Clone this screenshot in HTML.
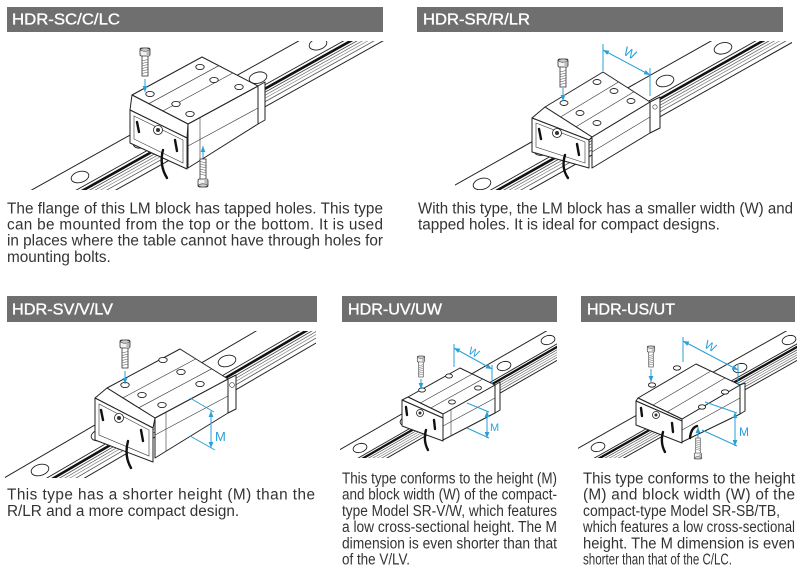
<!DOCTYPE html>
<html><head><meta charset="utf-8">
<style>
html,body{margin:0;padding:0;background:#fff;}
svg{display:block;}
.t{font-family:"Liberation Sans",Arial,sans-serif;font-size:15.3px;fill:#333;}
.h{font-family:"Liberation Sans",Arial,sans-serif;font-size:16px;fill:#fff;stroke:#fff;stroke-width:0.35px;}
.b{fill:#fff;stroke:#222;stroke-width:1;stroke-linejoin:round;}
.thin{fill:none;stroke:#333;stroke-width:0.6;}
.hole{fill:#fff;stroke:#222;stroke-width:0.9;}
.d{stroke:#2a9fd8;stroke-width:1;fill:none;}
.dl{font-family:"Liberation Sans",Arial,sans-serif;fill:#2a9fd8;}
.seal{stroke:#111;stroke-width:2.4;fill:none;stroke-linecap:round;}
</style></head><body>
<svg width="800" height="578" viewBox="0 0 800 578" xmlns="http://www.w3.org/2000/svg">
<defs>
  <marker id="ah" viewBox="0 0 10 10" refX="10" refY="5" markerWidth="6" markerHeight="6" markerUnits="userSpaceOnUse" orient="auto-start-reverse">
    <path d="M0,1 L10,5 L0,9 z" fill="#2a9fd8"/>
  </marker>
  <g id="bolt">
    <rect x="-3" y="7" width="6" height="21" fill="#fff" stroke="#333" stroke-width="0.8"/>
    <path d="M-3,13 L3,11.5 M-3,15.5 L3,14 M-3,18 L3,16.5 M-3,20.5 L3,19 M-3,23 L3,21.5 M-3,25.5 L3,24" stroke="#555" stroke-width="0.6"/>
    <rect x="-5" y="0" width="10" height="8" rx="1.5" fill="#f2f2f2" stroke="#333" stroke-width="0.8"/>
    <ellipse cx="0" cy="1.6" rx="4.4" ry="1.6" fill="#ccc" stroke="#333" stroke-width="0.6"/>
    <rect x="1.5" y="3" width="3" height="5" fill="#bbb"/>
  </g>
  <clipPath id="c1"><rect x="30" y="41" width="355" height="149"/></clipPath>
  <clipPath id="c2"><rect x="455" y="41" width="337" height="149"/></clipPath>
  <clipPath id="c3"><rect x="5" y="331" width="311" height="147"/></clipPath>
  <clipPath id="c4"><rect x="340" y="331" width="217" height="127"/></clipPath>
  <clipPath id="c5"><rect x="578" y="331" width="219" height="127"/></clipPath>
</defs>
<rect width="800" height="578" fill="#fff"/>

<!-- Headers -->
<rect x="7" y="7" width="376" height="25" fill="#6f6f6f"/>
<text class="h" x="12" y="24.7" textLength="108" lengthAdjust="spacingAndGlyphs">HDR-SC/C/LC</text>
<rect x="417" y="7" width="366" height="25" fill="#6f6f6f"/>
<text class="h" x="423" y="24.7" textLength="107" lengthAdjust="spacingAndGlyphs">HDR-SR/R/LR</text>
<rect x="7" y="296" width="310" height="26" fill="#6f6f6f"/>
<text class="h" x="12" y="314.5" textLength="101" lengthAdjust="spacingAndGlyphs">HDR-SV/V/LV</text>
<rect x="342" y="296" width="215" height="26" fill="#6f6f6f"/>
<text class="h" x="348" y="314.5" textLength="94" lengthAdjust="spacingAndGlyphs">HDR-UV/UW</text>
<rect x="581" y="296" width="214" height="26" fill="#6f6f6f"/>
<text class="h" x="587" y="314.5" textLength="88" lengthAdjust="spacingAndGlyphs">HDR-US/UT</text>

<!-- Body text -->
<text class="t" x="7" y="213.3" textLength="376" lengthAdjust="spacing">The flange of this LM block has tapped holes. This type</text>
<text class="t" x="7" y="229.5" textLength="376" lengthAdjust="spacing">can be mounted from the top or the bottom. It is used</text>
<text class="t" x="7" y="245.7" textLength="376" lengthAdjust="spacing">in places where the table cannot have through holes for</text>
<text class="t" x="7" y="261.9">mounting bolts.</text>

<text class="t" x="418" y="213.3" textLength="375" lengthAdjust="spacingAndGlyphs">With this type, the LM block has a smaller width (W) and</text>
<text class="t" x="418" y="229.5">tapped holes. It is ideal for compact designs.</text>

<text class="t" x="7" y="499.7" textLength="308" lengthAdjust="spacing">This type has a shorter height (M) than the</text>
<text class="t" x="7" y="515.9">R/LR and a more compact design.</text>

<text class="t" x="342" y="483.5" textLength="215" lengthAdjust="spacingAndGlyphs">This type conforms to the height (M)</text>
<text class="t" x="342" y="499.7" textLength="215" lengthAdjust="spacingAndGlyphs">and block width (W) of the compact-</text>
<text class="t" x="342" y="515.9" textLength="215" lengthAdjust="spacingAndGlyphs">type Model SR-V/W, which features</text>
<text class="t" x="342" y="532.1" textLength="215" lengthAdjust="spacingAndGlyphs">a low cross-sectional height. The M</text>
<text class="t" x="342" y="548.3" textLength="215" lengthAdjust="spacingAndGlyphs">dimension is even shorter than that</text>
<text class="t" x="342" y="564.5" textLength="68" lengthAdjust="spacingAndGlyphs">of the V/LV.</text>

<text class="t" x="583" y="483.5" textLength="212" lengthAdjust="spacingAndGlyphs">This type conforms to the height</text>
<text class="t" x="583" y="499.7" textLength="212" lengthAdjust="spacing">(M) and block width (W) of the</text>
<text class="t" x="583" y="515.9" textLength="197" lengthAdjust="spacingAndGlyphs">compact-type Model SR-SB/TB,</text>
<text class="t" x="583" y="532.1" textLength="212" lengthAdjust="spacingAndGlyphs">which features a low cross-sectional</text>
<text class="t" x="583" y="548.3" textLength="212" lengthAdjust="spacingAndGlyphs">height. The M dimension is even</text>
<text class="t" x="583" y="564.5" textLength="149" lengthAdjust="spacingAndGlyphs">shorter than that of the C/LC.</text>

<!-- ================= Drawing 1 (SC) ================= -->
<g clip-path="url(#c1)">
  <line x1="20" y1="196.5" x2="400" y2="-15.6" stroke="#222" stroke-width="1"/>
  <line x1="20" y1="221.5" x2="400" y2="9.4" stroke="#222" stroke-width="0.9"/>
  <line x1="20" y1="225.5" x2="400" y2="13.4" stroke="#111" stroke-width="2.6"/>
  <line x1="20" y1="229" x2="400" y2="16.9" stroke="#444" stroke-width="0.8"/>
  <line x1="20" y1="232" x2="400" y2="19.9" stroke="#666" stroke-width="0.7"/>
  <line x1="20" y1="235" x2="400" y2="22.9" stroke="#888" stroke-width="0.7"/>
  <line x1="20" y1="238.5" x2="400" y2="26.4" stroke="#555" stroke-width="0.8"/>
  <line x1="20" y1="243.5" x2="400" y2="31.4" stroke="#222" stroke-width="1"/>
  <ellipse class="hole" cx="80" cy="177" rx="9" ry="5.5" transform="rotate(-15 80 177)"/>
  <ellipse class="hole" cx="142" cy="142.4" rx="9" ry="5.5" transform="rotate(-15 142 142.4)"/>
  <ellipse class="hole" cx="258" cy="77.7" rx="9" ry="5.5" transform="rotate(-15 258 77.7)"/>
  <ellipse class="hole" cx="318" cy="44.2" rx="9" ry="5.5" transform="rotate(-15 318 44.2)"/>
  <!-- block -->
  <polygon class="b" points="258,86 265,82 265,120 258,124"/>
  <polygon class="b" points="188,124 258,86 258,124 188,168"/>
  <line class="thin" x1="188" y1="146" x2="258" y2="108"/>
  <line class="thin" x1="200" y1="118" x2="200" y2="161"/>
  <polygon class="b" points="132,95 188,124 258,86 202,57"/>
  <line class="thin" x1="148.8" y1="103.7" x2="218.8" y2="65.7"/>
  <line class="thin" x1="162.8" y1="111" x2="232.8" y2="73"/>
  <ellipse class="hole" cx="150" cy="94" rx="4.2" ry="2.6"/>
  <ellipse class="hole" cx="190" cy="114" rx="4.2" ry="2.6"/>
  <ellipse class="hole" cx="200" cy="67" rx="4.2" ry="2.6"/>
  <ellipse class="hole" cx="239" cy="87" rx="4.2" ry="2.6"/>
  <ellipse class="hole" cx="176" cy="104" rx="4.2" ry="2.6"/>
  <ellipse class="hole" cx="214" cy="80" rx="4.2" ry="2.6"/>
  <polygon class="b" points="132,95 188,124 187,138 130,110"/>
  <polygon class="b" points="130,110 187,138 187,169 130,143"/>
  <polygon class="thin" points="134,116 183,140 183,163 134,139"/>
  <circle cx="158" cy="130" r="4.5" fill="#fff" stroke="#222" stroke-width="0.8"/>
  <circle cx="158" cy="130" r="2" fill="#333"/>
  <line class="seal" x1="137" y1="122" x2="139" y2="132"/>
  <line class="seal" x1="175" y1="140" x2="177" y2="151"/>
  <path class="seal" d="M163,150 Q159,165 167,178"/>
</g>
<use href="#bolt" transform="translate(145,48)"/>
<line class="d" x1="145" y1="79" x2="145" y2="92" marker-end="url(#ah)"/>
<use href="#bolt" transform="translate(203,187) scale(1,-1)"/>
<line class="d" x1="203" y1="158" x2="203" y2="146" marker-end="url(#ah)"/>

<!-- ================= Drawing 2 (SR) ================= -->
<g clip-path="url(#c2)">
  <line x1="440" y1="193.5" x2="800" y2="-9" stroke="#222" stroke-width="1"/>
  <line x1="440" y1="218.5" x2="800" y2="16" stroke="#222" stroke-width="0.9"/>
  <line x1="440" y1="222.5" x2="800" y2="20" stroke="#111" stroke-width="2.6"/>
  <line x1="440" y1="226" x2="800" y2="23.5" stroke="#444" stroke-width="0.8"/>
  <line x1="440" y1="229" x2="800" y2="26.5" stroke="#666" stroke-width="0.7"/>
  <line x1="440" y1="232" x2="800" y2="29.5" stroke="#888" stroke-width="0.7"/>
  <line x1="440" y1="235.5" x2="800" y2="33" stroke="#555" stroke-width="0.8"/>
  <line x1="440" y1="240.5" x2="800" y2="38" stroke="#222" stroke-width="1"/>
  <ellipse class="hole" cx="482" cy="183.9" rx="9" ry="5.5" transform="rotate(-15 482 183.9)"/>
  <ellipse class="hole" cx="543" cy="149.6" rx="9" ry="5.5" transform="rotate(-15 543 149.6)"/>
  <ellipse class="hole" cx="665" cy="81" rx="9" ry="5.5" transform="rotate(-15 665 81)"/>
  <ellipse class="hole" cx="723" cy="48.3" rx="9" ry="5.5" transform="rotate(-15 723 48.3)"/>
  <polygon class="b" points="650,102 660,97 660,128 650,133"/>
  <circle cx="655" cy="107" r="2.2" class="thin"/>
  <polygon class="b" points="592,137 650,102 650,133 592,168"/>
  <line class="thin" x1="592" y1="152" x2="650" y2="117"/>
  <polygon class="b" points="545,107 592,137 650,102 603,72"/>
  <line class="thin" x1="560.5" y1="117" x2="618.5" y2="82"/>
  <line class="thin" x1="576" y1="126.8" x2="634" y2="91.8"/>
  <ellipse class="hole" cx="564" cy="103" rx="4" ry="2.5"/>
  <ellipse class="hole" cx="580" cy="113" rx="4" ry="2.5"/>
  <ellipse class="hole" cx="597" cy="123" rx="4" ry="2.5"/>
  <ellipse class="hole" cx="597" cy="82" rx="4" ry="2.5"/>
  <ellipse class="hole" cx="614" cy="91" rx="4" ry="2.5"/>
  <ellipse class="hole" cx="631" cy="101" rx="4" ry="2.5"/>
  <polygon class="b" points="545,107 592,137 589,140 532,118"/>
  <polygon class="b" points="532,118 589,140 589,168 532,152"/>
  <polygon class="thin" points="536,123 585,142 585,163 536,147"/>
  <circle cx="557" cy="133" r="4.5" fill="#fff" stroke="#222" stroke-width="0.8"/>
  <circle cx="557" cy="133" r="2" fill="#333"/>
  <line class="seal" x1="539" y1="129" x2="541" y2="139"/>
  <line class="seal" x1="577" y1="144" x2="579" y2="155"/>
  <path class="seal" d="M565,155 Q561,168 568,178"/>
</g>
<use href="#bolt" transform="translate(563,59)"/>
<line class="d" x1="563" y1="88" x2="563" y2="101" marker-end="url(#ah)"/>
<line class="d" x1="603" y1="44" x2="603" y2="71"/>
<line class="d" x1="650" y1="68" x2="650" y2="96"/>
<line class="d" x1="603" y1="50" x2="650" y2="75" marker-start="url(#ah)" marker-end="url(#ah)"/>
<text class="dl" x="622" y="56" font-size="13" transform="rotate(28 626 56)">W</text>

<!-- ================= Drawing 3 (SV) ================= -->
<g clip-path="url(#c3)">
  <line x1="-10" y1="486.2" x2="330" y2="287.9" stroke="#222" stroke-width="1"/>
  <line x1="-10" y1="511.2" x2="330" y2="312.9" stroke="#222" stroke-width="0.9"/>
  <line x1="-10" y1="515.2" x2="330" y2="316.9" stroke="#111" stroke-width="2.6"/>
  <line x1="-10" y1="518.7" x2="330" y2="320.4" stroke="#444" stroke-width="0.8"/>
  <line x1="-10" y1="521.7" x2="330" y2="323.4" stroke="#666" stroke-width="0.7"/>
  <line x1="-10" y1="524.7" x2="330" y2="326.4" stroke="#888" stroke-width="0.7"/>
  <line x1="-10" y1="528.2" x2="330" y2="329.9" stroke="#555" stroke-width="0.8"/>
  <line x1="-10" y1="533.2" x2="330" y2="334.9" stroke="#222" stroke-width="1"/>
  <ellipse class="hole" cx="40" cy="470" rx="9" ry="5.5" transform="rotate(-15 40 470)"/>
  <ellipse class="hole" cx="100" cy="435" rx="9" ry="5.5" transform="rotate(-15 100 435)"/>
  <ellipse class="hole" cx="227" cy="361" rx="9" ry="5.5" transform="rotate(-15 227 361)"/>
  <ellipse class="hole" cx="290" cy="324.5" rx="9" ry="5.5" transform="rotate(-15 290 324.5)"/>
  <polygon class="b" points="228,379 236,375 236,409 228,413"/>
  <circle cx="232" cy="385" r="2.4" class="thin"/>
  <polygon class="b" points="155,418 228,379 228,413 155,458"/>
  <line class="thin" x1="155" y1="435" x2="228" y2="396"/>
  <line class="thin" x1="166" y1="412" x2="166" y2="451"/>
  <polygon class="b" points="107,388 155,418 228,379 180,349"/>
  <line class="thin" x1="122.8" y1="397.9" x2="195.8" y2="358.9"/>
  <line class="thin" x1="138.7" y1="407.8" x2="211.7" y2="368.8"/>
  <ellipse class="hole" cx="125" cy="385" rx="4.2" ry="2.6"/>
  <ellipse class="hole" cx="142" cy="395" rx="4.2" ry="2.6"/>
  <ellipse class="hole" cx="162" cy="405" rx="4.2" ry="2.6"/>
  <ellipse class="hole" cx="163" cy="360" rx="4.2" ry="2.6"/>
  <ellipse class="hole" cx="181" cy="372" rx="4.2" ry="2.6"/>
  <ellipse class="hole" cx="200" cy="384" rx="4.2" ry="2.6"/>
  <polygon class="b" points="107,388 155,418 153,428 95,398"/>
  <polygon class="b" points="95,398 153,428 153,462 95,440"/>
  <polygon class="thin" points="99,404 149,430 149,456 99,435"/>
  <circle cx="119" cy="418" r="4.5" fill="#fff" stroke="#222" stroke-width="0.8"/>
  <circle cx="119" cy="418" r="2" fill="#333"/>
  <line class="seal" x1="101" y1="410" x2="103" y2="420"/>
  <line class="seal" x1="141" y1="430" x2="143" y2="441"/>
  <path class="seal" d="M128,441 Q124,456 131,468"/>
</g>
<use href="#bolt" transform="translate(125,340)"/>
<line class="d" x1="125" y1="371" x2="125" y2="384" marker-end="url(#ah)"/>
<line class="d" x1="190" y1="398" x2="214" y2="412"/>
<line class="d" x1="190" y1="436" x2="215" y2="450"/>
<line class="d" x1="211" y1="411" x2="211" y2="448" marker-start="url(#ah)" marker-end="url(#ah)"/>
<text class="dl" x="215" y="441" font-size="13">M</text>

<!-- ================= Drawing 4 (UV) ================= -->
<g clip-path="url(#c4)">
  <line x1="320" y1="461" x2="580" y2="311.7" stroke="#222" stroke-width="1"/>
  <line x1="320" y1="480" x2="580" y2="330.7" stroke="#222" stroke-width="0.9"/>
  <line x1="320" y1="483" x2="580" y2="333.7" stroke="#111" stroke-width="2.3"/>
  <line x1="320" y1="486" x2="580" y2="336.7" stroke="#444" stroke-width="0.7"/>
  <line x1="320" y1="488.5" x2="580" y2="339.2" stroke="#777" stroke-width="0.7"/>
  <line x1="320" y1="491" x2="580" y2="341.7" stroke="#888" stroke-width="0.7"/>
  <line x1="320" y1="493.5" x2="580" y2="344.2" stroke="#555" stroke-width="0.7"/>
  <line x1="320" y1="496.5" x2="580" y2="347.2" stroke="#222" stroke-width="1"/>
  <ellipse class="hole" cx="360" cy="448" rx="7" ry="4.4" transform="rotate(-15 360 448)"/>
  <ellipse class="hole" cx="407" cy="421" rx="7" ry="4.4" transform="rotate(-15 407 421)"/>
  <ellipse class="hole" cx="504" cy="366" rx="7" ry="4.4" transform="rotate(-15 504 366)"/>
  <ellipse class="hole" cx="548" cy="340" rx="7" ry="4.4" transform="rotate(-15 548 340)"/>
  <polygon class="b" points="495,385 500,382 500,410 495,413"/>
  <polygon class="b" points="443,414 495,385 495,413 443,440"/>
  <line class="thin" x1="443" y1="426" x2="495" y2="398"/>
  <line class="thin" x1="451" y1="410" x2="451" y2="436"/>
  <polygon class="b" points="408,397 443,414 495,385 460,368"/>
  <line class="thin" x1="420.3" y1="403" x2="472.3" y2="374"/>
  <line class="thin" x1="430.8" y1="408" x2="482.8" y2="379"/>
  <ellipse class="hole" cx="422" cy="390" rx="3.4" ry="2.1"/>
  <ellipse class="hole" cx="449" cy="376" rx="3.4" ry="2.1"/>
  <ellipse class="hole" cx="452" cy="402" rx="3.4" ry="2.1"/>
  <ellipse class="hole" cx="478" cy="388" rx="3.4" ry="2.1"/>
  <polygon class="b" points="408,397 443,414 443,418 402,400"/>
  <polygon class="b" points="402,400 443,418 443,441 402,426"/>
  <circle cx="420" cy="413" r="3.5" fill="#fff" stroke="#222" stroke-width="0.8"/>
  <circle cx="420" cy="413" r="1.5" fill="#333"/>
  <line class="seal" x1="406" y1="407" x2="407" y2="415"/>
  <line class="seal" x1="434" y1="420" x2="435" y2="429"/>
  <path class="seal" d="M426,430 Q423,441 428,450"/>
</g>
<use href="#bolt" transform="translate(421,356) scale(0.75)"/>
<line class="d" x1="421" y1="379" x2="421" y2="389" marker-end="url(#ah)"/>
<line class="d" x1="454" y1="344" x2="454" y2="367"/>
<line class="d" x1="492" y1="365" x2="492" y2="384"/>
<line class="d" x1="454" y1="348" x2="492" y2="369" marker-start="url(#ah)" marker-end="url(#ah)"/>
<text class="dl" x="467" y="355" font-size="11" transform="rotate(28 471 355)">W</text>
<line class="d" x1="467" y1="403" x2="489" y2="412"/>
<line class="d" x1="467" y1="428" x2="489" y2="438"/>
<line class="d" x1="487" y1="411" x2="487" y2="438" marker-start="url(#ah)" marker-end="url(#ah)"/>
<text class="dl" x="490" y="431" font-size="11">M</text>

<!-- ================= Drawing 5 (US) ================= -->
<g clip-path="url(#c5)">
  <line x1="560" y1="458.4" x2="820" y2="312" stroke="#222" stroke-width="1"/>
  <line x1="560" y1="477.4" x2="820" y2="331" stroke="#222" stroke-width="0.9"/>
  <line x1="560" y1="480.4" x2="820" y2="334" stroke="#111" stroke-width="2.3"/>
  <line x1="560" y1="483.4" x2="820" y2="337" stroke="#444" stroke-width="0.7"/>
  <line x1="560" y1="485.9" x2="820" y2="339.5" stroke="#777" stroke-width="0.7"/>
  <line x1="560" y1="488.4" x2="820" y2="342" stroke="#888" stroke-width="0.7"/>
  <line x1="560" y1="490.9" x2="820" y2="344.5" stroke="#555" stroke-width="0.7"/>
  <line x1="560" y1="493.9" x2="820" y2="347.5" stroke="#222" stroke-width="1"/>
  <ellipse class="hole" cx="598" cy="447" rx="7" ry="4.4" transform="rotate(-15 598 447)"/>
  <ellipse class="hole" cx="645" cy="420.5" rx="7" ry="4.4" transform="rotate(-15 645 420.5)"/>
  <ellipse class="hole" cx="740" cy="368" rx="7" ry="4.4" transform="rotate(-15 740 368)"/>
  <ellipse class="hole" cx="789" cy="340" rx="7" ry="4.4" transform="rotate(-15 789 340)"/>
  <polygon class="b" points="740,385 745,383 745,411 740,414"/>
  <polygon class="b" points="682,419 740,385 740,414 682,442"/>
  <line class="thin" x1="682" y1="430" x2="740" y2="398"/>
  <path class="seal" d="M690,438 Q691,428 697,426" stroke-width="1.5"/>
  <polygon class="b" points="638,398 682,419 740,385 696,364"/>
  <line class="thin" x1="653" y1="405" x2="711" y2="371"/>
  <line class="thin" x1="667" y1="412" x2="725" y2="378"/>
  <ellipse class="hole" cx="652" cy="385" rx="3.6" ry="2.2"/>
  <ellipse class="hole" cx="677" cy="368" rx="3.6" ry="2.2"/>
  <ellipse class="hole" cx="702" cy="407" rx="3.6" ry="2.2"/>
  <ellipse class="hole" cx="725" cy="392" rx="3.6" ry="2.2"/>
  <polygon class="b" points="638,398 682,419 682,421 636,401"/>
  <polygon class="b" points="636,401 682,421 682,443 636,425"/>
  <circle cx="656" cy="415" r="3.5" fill="#fff" stroke="#222" stroke-width="0.8"/>
  <circle cx="656" cy="415" r="1.5" fill="#333"/>
  <line class="seal" x1="641" y1="408" x2="642" y2="416"/>
  <line class="seal" x1="672" y1="423" x2="673" y2="432"/>
  <path class="seal" d="M663,432 Q660,443 665,452"/>
</g>
<use href="#bolt" transform="translate(651,346) scale(0.75)"/>
<line class="d" x1="651" y1="369" x2="651" y2="382" marker-end="url(#ah)"/>
<use href="#bolt" transform="translate(698,459) scale(0.75,-0.75)"/>
<line class="d" x1="698" y1="438" x2="698" y2="427" marker-end="url(#ah)"/>
<line class="d" x1="683" y1="337" x2="683" y2="362"/>
<line class="d" x1="738" y1="365" x2="738" y2="385"/>
<line class="d" x1="683" y1="341" x2="738" y2="370" marker-start="url(#ah)" marker-end="url(#ah)"/>
<text class="dl" x="703" y="349" font-size="12" transform="rotate(28 707 349)">W</text>
<line class="d" x1="705" y1="402" x2="737" y2="413"/>
<line class="d" x1="702" y1="430" x2="737" y2="446"/>
<line class="d" x1="735" y1="412" x2="735" y2="446" marker-start="url(#ah)" marker-end="url(#ah)"/>
<text class="dl" x="739" y="436" font-size="12">M</text>
</svg>
</body></html>
